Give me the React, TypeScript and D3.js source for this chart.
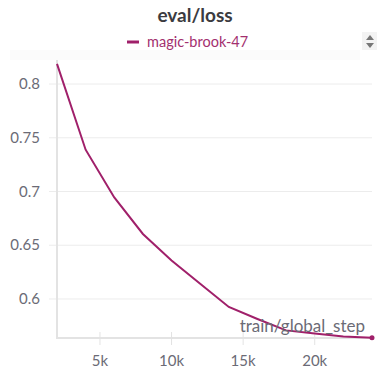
import React from "react";
import * as d3 from "d3";

const steps = [2000, 4000, 6000, 8000, 10000, 12000, 14000, 16000, 18000, 20000, 22000, 24000];
const losses = [0.8188, 0.7389, 0.6945, 0.6605, 0.6359, 0.6142, 0.5926, 0.5814, 0.5708, 0.5678, 0.565, 0.564];
const yTicks = [0.6, 0.65, 0.7, 0.75, 0.8];
const xTicks = [5000, 10000, 15000, 20000];
const title = "eval/loss";
const runName = "magic-brook-47";
const xLabel = "train/global_step";

const COLOR = "#a0206a";
const TICK = "#6b6b76";
const FONT = "Lato, 'Noto Sans', sans-serif";

export default function App() {
  const W = 377, H = 371;
  const x = d3.scaleLinear().domain([2000, 24000]).range([57, 372]);
  const y = d3.scaleLinear().domain([0.5637, 0.8205]).range([338, 62]);
  const line = d3.line<number>().x((_, i) => x(steps[i])).y((d) => y(d));
  const path = line(losses) || "";
  const last = losses.length - 1;
  return (
    <svg width={W} height={H} style={{ position: "absolute", left: 0, top: 0, background: "#fff" }}>
      <rect x={10} y={50} width={350} height={10} fill="#fbfbfb" />
      <text x={195} y={22} textAnchor="middle" fontFamily={FONT} fontWeight={700} fontSize={19} fill="#3b3b40">{title}</text>
      <line x1={127} x2={139} y1={42} y2={42} stroke={COLOR} strokeWidth={3} />
      <text x={147} y={47} fontFamily={FONT} fontSize={14.5} fill="#a3306f">{runName}</text>
      <rect x={362} y={32} width={15} height={18} fill="#f3f3f3" />
      <path d="M366,40 L370,35 L374,40 Z" fill="#777" />
      <path d="M366,43 L370,48 L374,43 Z" fill="#777" />
      {yTicks.map((t) => (
        <g key={t}>
          <line x1={49} x2={372} y1={y(t)} y2={y(t)} stroke="#ececec" strokeWidth={1} />
          <text x={40} y={y(t) + 5} textAnchor="end" fontFamily={FONT} fontSize={15} fill={TICK}>{d3.format("")(t)}</text>
        </g>
      ))}
      <line x1={57} x2={57} y1={60} y2={339} stroke="#e3e3e3" strokeWidth={2} />
      <line x1={56} x2={372} y1={338} y2={338} stroke="#e3e3e3" strokeWidth={2} />
      {xTicks.map((t) => (
        <g key={t}>
          <line x1={x(t)} x2={x(t)} y1={332} y2={345} stroke="#e3e3e3" strokeWidth={1} />
          <text x={x(t)} y={366} textAnchor="middle" fontFamily={FONT} fontSize={15} fill={TICK}>{t / 1000 + "k"}</text>
        </g>
      ))}
      <path d={path} fill="none" stroke={COLOR} strokeWidth={2} />
      <text x={365} y={332} textAnchor="end" fontFamily={FONT} fontSize={17} fill={TICK}>{xLabel}</text>
      <circle cx={x(steps[last])} cy={y(losses[last])} r={2.5} fill={COLOR} />
    </svg>
  );
}
